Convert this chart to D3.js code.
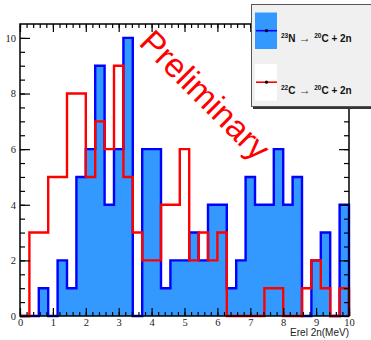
<!DOCTYPE html>
<html>
<head>
<meta charset="utf-8">
<script src="https://cdn.jsdelivr.net/npm/d3@7"></script>
<style>
  html, body { margin: 0; padding: 0; background: #ffffff; }
  svg { display: block; }
</style>
</head>
<body>
<svg id="chart" width="371" height="340"></svg>
<script>
// Two-neutron relative energy spectra, 35 bins between 0 and 10 MeV
const binLow = 0;
const binHigh = 10;
const countsN23 = [0, 0, 1, 0, 2, 1, 5, 6, 9, 4, 6, 10, 0, 6, 6, 1, 2, 2, 3, 2, 4, 4, 1, 2, 5, 4, 4, 6, 4, 5, 0, 2, 3, 0, 4];
const countsC22 = [0, 3, 3, 5, 5, 8, 8, 5, 7, 6, 9, 5, 3, 2, 2, 4, 4, 6, 2, 3, 2, 3, 0, 0, 0, 0, 1, 1, 0, 0, 1, 2, 1, 0, 1];
const xTicks = [0, 1, 2, 3, 4, 5, 6, 7, 8, 9, 10];
const yTicks = [0, 2, 4, 6, 8, 10];
const xTitle = "Erel 2n(MeV)";
const watermark = "Preliminary";

const svg = d3.select("#chart");

const frame = { left: 20, right: 349, top: 24, bottom: 316 };
const yMax = 10.5;

const x = d3.scaleLinear().domain([binLow, binHigh]).range([frame.left, frame.right]);
const y = d3.scaleLinear().domain([0, yMax]).range([frame.bottom, frame.top]);

const nBins = countsN23.length;
const binWidth = (binHigh - binLow) / nBins;

// step outline: starts and ends on the baseline
function stepPoints(counts) {
  const pts = [[binLow, 0]];
  counts.forEach((c, i) => {
    pts.push([binLow + i * binWidth, c]);
    pts.push([binLow + (i + 1) * binWidth, c]);
  });
  pts.push([binHigh, 0]);
  return pts;
}

const line = d3.line().x(d => x(d[0])).y(d => y(d[1]));
const area = d3.area().x(d => x(d[0])).y0(y(0)).y1(d => y(d[1]));

const plot = svg.append("g");

// filled 23N histogram
const ptsN = stepPoints(countsN23);
plot.append("path").attr("d", area(ptsN)).attr("fill", "#3399ff");
plot.append("path").attr("d", line(ptsN))
  .attr("fill", "none").attr("stroke", "#0000ff").attr("stroke-width", 2.4)
  .attr("stroke-linejoin", "miter");

// open 22C histogram
const ptsC = stepPoints(countsC22);
plot.append("path").attr("d", line(ptsC))
  .attr("fill", "none").attr("stroke", "#ff0000").attr("stroke-width", 2.4)
  .attr("stroke-linejoin", "miter");

// frame
svg.append("rect")
  .attr("x", frame.left).attr("y", frame.top)
  .attr("width", frame.right - frame.left).attr("height", frame.bottom - frame.top)
  .attr("fill", "none").attr("stroke", "#000").attr("stroke-width", 1.5);

// tick marks drawn inward on all four sides
function styleTicks(g) {
  g.select(".domain").remove();
  g.selectAll(".tick line").attr("stroke", "#000").attr("stroke-width", 1.2);
  g.selectAll(".tick text").remove();
}
const xMinor = d3.range(0, 51).map(i => binLow + i * 0.2);
const yMinor = d3.range(0, 21).map(i => i * 0.5);

svg.append("g").attr("transform", `translate(0,${frame.bottom})`)
  .call(d3.axisBottom(x).tickValues(xMinor).tickSize(-4)).call(styleTicks);
svg.append("g").attr("transform", `translate(0,${frame.bottom})`)
  .call(d3.axisBottom(x).tickValues(xTicks).tickSize(-8)).call(styleTicks);
svg.append("g").attr("transform", `translate(0,${frame.top})`)
  .call(d3.axisTop(x).tickValues(xMinor).tickSize(-4)).call(styleTicks);
svg.append("g").attr("transform", `translate(0,${frame.top})`)
  .call(d3.axisTop(x).tickValues(xTicks).tickSize(-8)).call(styleTicks);

svg.append("g").attr("transform", `translate(${frame.left},0)`)
  .call(d3.axisLeft(y).tickValues(yMinor).tickSize(-5)).call(styleTicks);
svg.append("g").attr("transform", `translate(${frame.left},0)`)
  .call(d3.axisLeft(y).tickValues(yTicks).tickSize(-10)).call(styleTicks);
svg.append("g").attr("transform", `translate(${frame.right},0)`)
  .call(d3.axisRight(y).tickValues(yMinor).tickSize(-5)).call(styleTicks);
svg.append("g").attr("transform", `translate(${frame.right},0)`)
  .call(d3.axisRight(y).tickValues(yTicks).tickSize(-10)).call(styleTicks);

// tick labels
const labelFont = "'Liberation Serif', 'DejaVu Serif', serif";
const xLab = svg.append("g").attr("transform", `translate(0,${frame.bottom})`)
  .call(d3.axisBottom(x).tickValues(xTicks).tickSize(0).tickPadding(3).tickFormat(d3.format("d")));
xLab.select(".domain").remove();
xLab.selectAll(".tick text").attr("font-family", labelFont).attr("font-size", 10.5).attr("fill", "#222");

const yLab = svg.append("g").attr("transform", `translate(${frame.left},0)`)
  .call(d3.axisLeft(y).tickValues(yTicks).tickSize(0).tickPadding(4).tickFormat(d3.format("d")));
yLab.select(".domain").remove();
yLab.selectAll(".tick text").attr("font-family", labelFont).attr("font-size", 10.5).attr("fill", "#222");

// axis title
svg.append("text")
  .attr("x", frame.right).attr("y", 336)
  .attr("text-anchor", "end")
  .attr("font-family", "'Liberation Sans', Arial, sans-serif")
  .attr("font-size", 10)
  .attr("fill", "#222")
  .text(xTitle);

// watermark
svg.append("text")
  .attr("transform", "translate(205,95) rotate(45)")
  .attr("text-anchor", "middle")
  .attr("dominant-baseline", "central")
  .attr("font-family", "'Liberation Sans', Arial, sans-serif")
  .attr("font-size", 33.5)
  .attr("fill", "#ff0000")
  .text(watermark);

// legend
const leg = svg.append("g");
leg.append("rect").attr("x", 253).attr("y", 106).attr("width", 130).attr("height", 3).attr("fill", "#333");
leg.append("rect").attr("x", 251.5).attr("y", 4.5).attr("width", 130).attr("height", 102)
  .attr("fill", "#f0f0f0").attr("stroke", "#555").attr("stroke-width", 1);

const entries = [
  { sw: "#3399ff", line: "#0000ff", a: "23", el: "N", top: 12.5 },
  { sw: "#ffffff", line: "#ff0000", a: "22", el: "C", top: 64 }
];
entries.forEach(e => {
  leg.append("rect").attr("x", 255).attr("y", e.top).attr("width", 22).attr("height", 36.5).attr("fill", e.sw);
  const cy = e.top + 18.2;
  leg.append("line").attr("x1", 256).attr("x2", 277).attr("y1", cy).attr("y2", cy)
    .attr("stroke", e.line).attr("stroke-width", 1.6);
  leg.append("circle").attr("cx", 266.5).attr("cy", cy).attr("r", 1.6).attr("fill", "#000");
  const t = leg.append("text").attr("x", 281).attr("y", cy + 11.5)
    .attr("font-family", "'Liberation Sans', Arial, sans-serif")
    .attr("font-size", 10).attr("font-weight", "bold").attr("fill", "#111");
  t.append("tspan").attr("font-size", 6.5).attr("dy", -4).text(e.a);
  t.append("tspan").attr("dy", 4).text(e.el);
  t.append("tspan").attr("font-weight", "normal").attr("fill", "#444").attr("font-size", 12).text(" \u2192 ");
  t.append("tspan").attr("font-size", 6.5).attr("dy", -4).text("20");
  t.append("tspan").attr("dy", 4).text("C + 2n");
});
</script>
</body>
</html>
